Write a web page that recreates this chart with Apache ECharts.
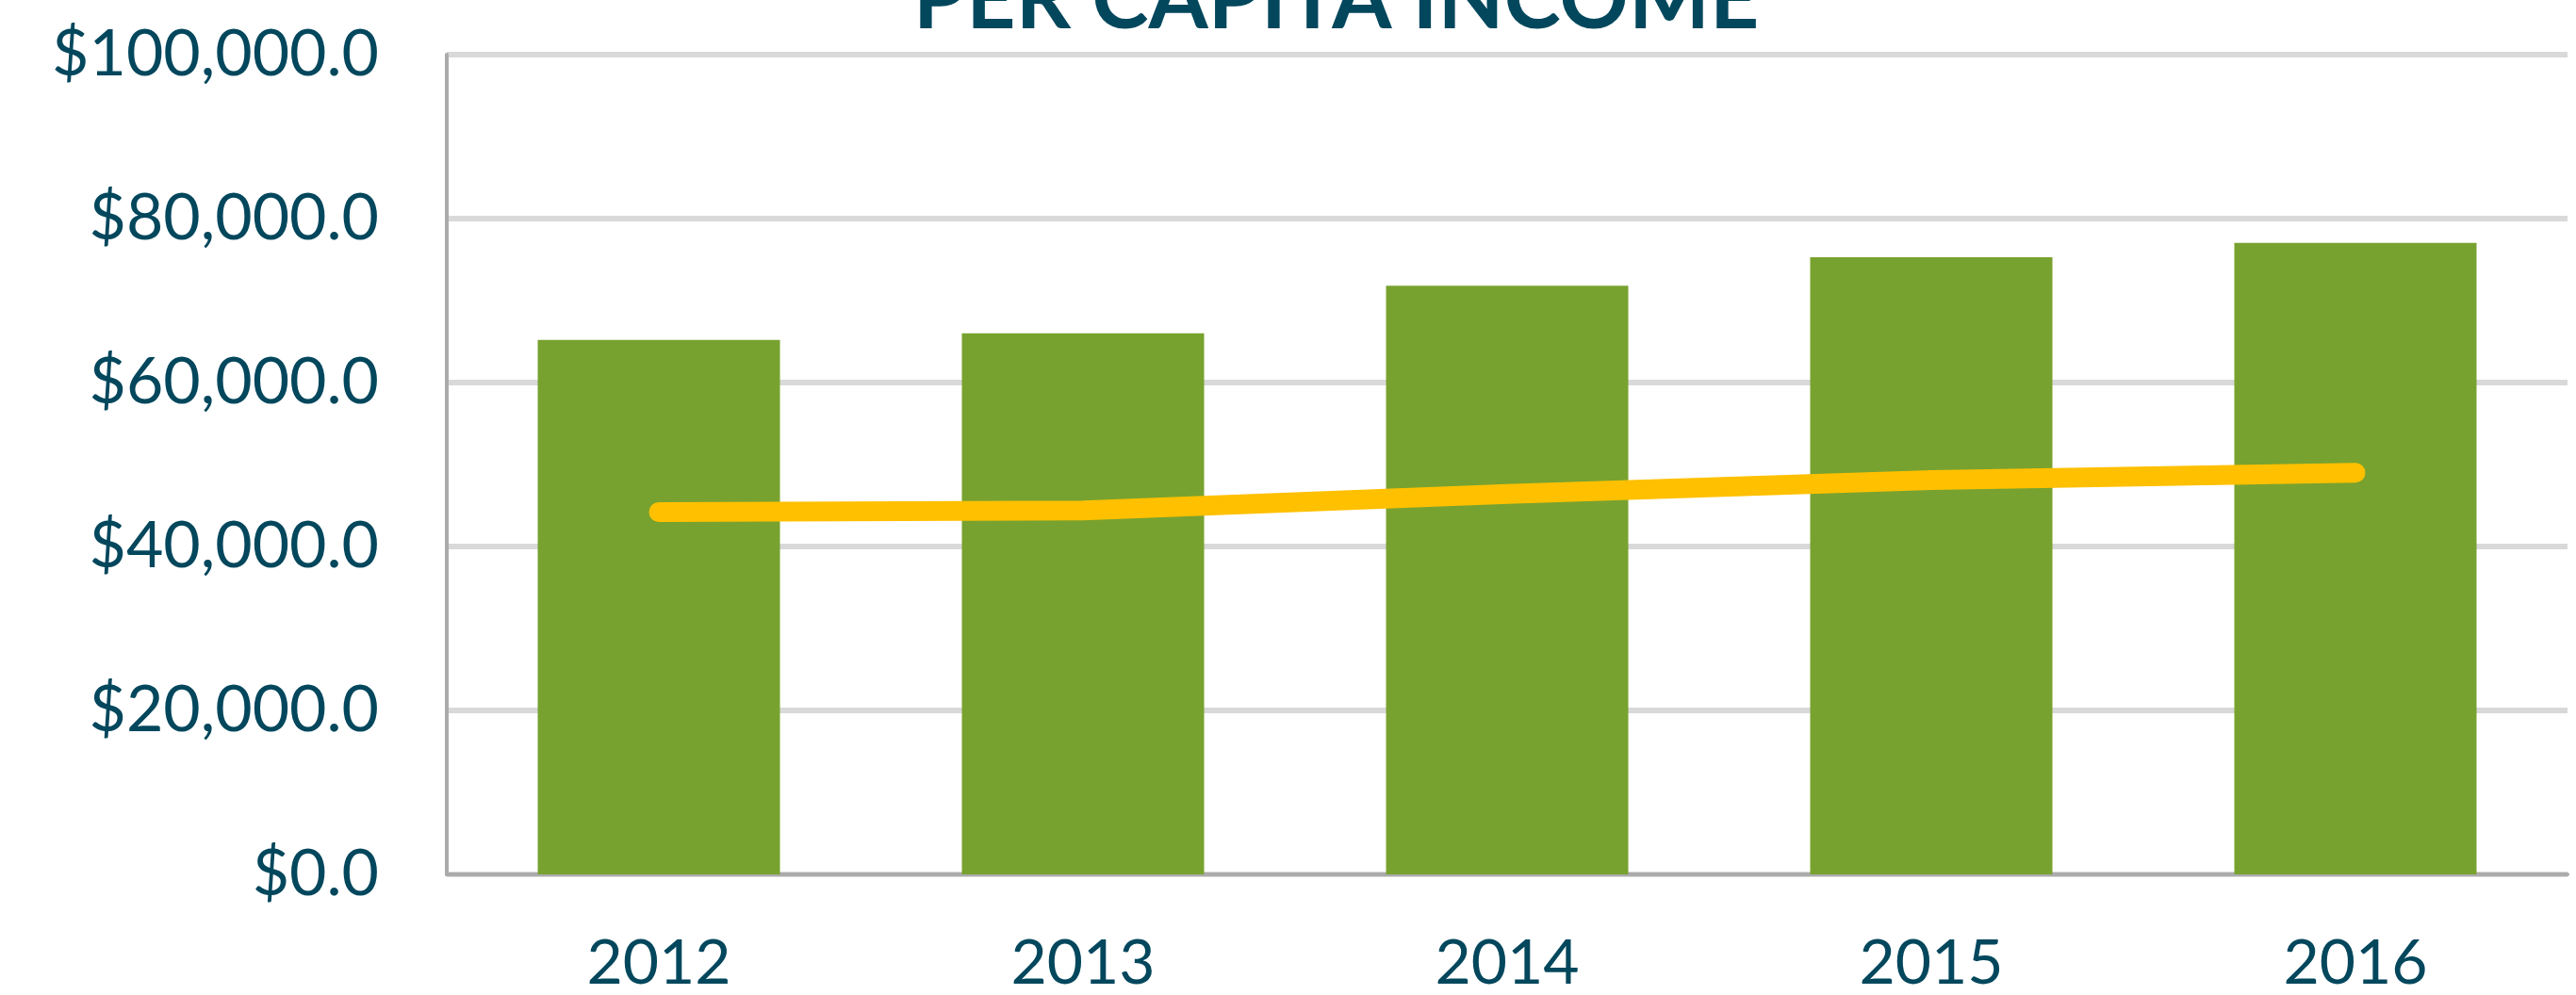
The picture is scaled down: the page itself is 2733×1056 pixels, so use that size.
<!DOCTYPE html>
<html>
<head>
<meta charset="utf-8">
<title>Per Capita Income</title>
<script src="https://cdn.jsdelivr.net/npm/echarts@6/dist/echarts.min.js"></script>
<style>
  html, body { margin: 0; padding: 0; background: #fff; }
  #incomeChart { width: 2733px; height: 1056px; }
</style>
</head>
<body>
<div id="incomeChart"></div>
<script>
// values
var years = ['2012', '2013', '2014', '2015', '2016'];
var barValues = [65200, 66000, 71800, 75300, 77050];
var lineValues = [44200, 44400, 46400, 48100, 49000];
var yTicks = [0, 20000, 40000, 60000, 80000, 100000];

var textColor = '#03475D';

var incomeChart = echarts.init(document.getElementById('incomeChart'));

var option = {
    animation: false,
    title: {
        text: 'PER CAPITA INCOME',
        left: 964,
        top: -50,
        textStyle: {
            fontFamily: 'Lato',
            fontWeight: 'bold',
            fontSize: 91,
            color: textColor
        }
    },
    grid: {
        left: 474,
        right: 9,
        top: 58,
        bottom: 127,
        containLabel: false
    },
    xAxis: {
        type: 'category',
        data: years,
        axisTick: { show: false },
        axisLine: {
            lineStyle: { color: '#ABABAB', width: 4 }
        },
        axisLabel: {
            margin: 62,
            fontFamily: 'Lato',
            fontSize: 66,
            color: textColor
        }
    },
    yAxis: {
        type: 'value',
        min: yTicks[0],
        max: yTicks[yTicks.length - 1],
        interval: yTicks[1] - yTicks[0],
        axisLine: {
            show: true,
            lineStyle: { color: '#ABABAB', width: 4 }
        },
        axisTick: { show: false },
        splitLine: {
            lineStyle: { color: '#D9D9D9', width: 6 }
        },
        axisLabel: {
            margin: 72,
            fontFamily: 'Lato',
            fontSize: 68,
            color: textColor,
            formatter: function (v) {
                return '$' + v.toLocaleString('en-US', { minimumFractionDigits: 1, maximumFractionDigits: 1 });
            }
        }
    },
    series: [
        {
            name: 'Income',
            type: 'bar',
            data: barValues,
            barWidth: 257,
            itemStyle: { color: '#78A22F' }
        },
        {
            name: 'Trend',
            type: 'line',
            data: lineValues,
            showSymbol: false,
            symbol: 'none',
            z: 5,
            lineStyle: { color: '#FFC000', width: 21, cap: 'round', join: 'round' }
        }
    ]
};

incomeChart.setOption(option);
</script>
</body>
</html>
